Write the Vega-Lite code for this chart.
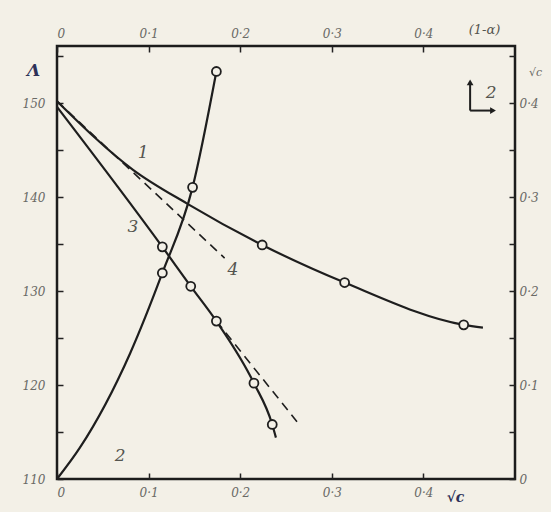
{
  "$schema": "https://vega.github.io/schema/vega-lite/v6.json",
  "width": 458,
  "height": 433,
  "autosize": {"type": "none"},
  "padding": {"left": 57, "top": 46, "right": 36, "bottom": 33},
  "background": "#f3f0e7",
  "config": {
    "view": {"stroke": "#1c1c1c", "strokeWidth": 2.5},
    "axis": {
      "grid": false,
      "domain": false,
      "ticks": true,
      "tickColor": "#222222",
      "tickWidth": 1.5,
      "tickSize": -6,
      "labelFont": "DejaVu Serif",
      "labelFontStyle": "italic",
      "labelFontSize": 12,
      "labelColor": "#6a6a66",
      "titleFont": "DejaVu Serif",
      "titleFontStyle": "italic",
      "titleFontWeight": "normal"
    }
  },
  "datasets": {
    "lines": [
      {"series": "1", "dash": "solid", "x": 0.0, "y": 150.2},
      {"series": "1", "dash": "solid", "x": 0.083, "y": 142.9},
      {"series": "1", "dash": "solid", "x": 0.142, "y": 139.3},
      {"series": "1", "dash": "solid", "x": 0.224, "y": 134.9},
      {"series": "1", "dash": "solid", "x": 0.314, "y": 130.9},
      {"series": "1", "dash": "solid", "x": 0.444, "y": 126.4},
      {"series": "1", "dash": "solid", "x": 0.465, "y": 126.1},
      {"series": "3", "dash": "solid", "x": 0.0, "y": 149.6},
      {"series": "3", "dash": "solid", "x": 0.115, "y": 134.7},
      {"series": "3", "dash": "solid", "x": 0.146, "y": 130.5},
      {"series": "3", "dash": "solid", "x": 0.174, "y": 126.8},
      {"series": "3", "dash": "solid", "x": 0.215, "y": 120.2},
      {"series": "3", "dash": "solid", "x": 0.235, "y": 115.8},
      {"series": "3", "dash": "solid", "x": 0.239, "y": 114.4},
      {"series": "4", "dash": "dashed", "x": 0.0, "y": 150.2},
      {"series": "4", "dash": "dashed", "x": 0.183, "y": 133.5},
      {"series": "3e", "dash": "dashed", "x": 0.174, "y": 126.8},
      {"series": "3e", "dash": "dashed", "x": 0.262, "y": 116.1}
    ],
    "circles": [
      {"series": "1", "x": 0.224, "y": 134.9},
      {"series": "1", "x": 0.314, "y": 130.9},
      {"series": "1", "x": 0.444, "y": 126.4},
      {"series": "3", "x": 0.115, "y": 134.7},
      {"series": "3", "x": 0.146, "y": 130.5},
      {"series": "3", "x": 0.174, "y": 126.8},
      {"series": "3", "x": 0.215, "y": 120.2},
      {"series": "3", "x": 0.235, "y": 115.8}
    ],
    "labels": [
      {"text": "1", "x": 0.094, "y": 144.7},
      {"text": "3", "x": 0.083, "y": 136.8},
      {"text": "4", "x": 0.192, "y": 132.2},
      {"text": "2", "x": 0.069, "y": 112.5},
      {"text": "2", "x": 0.474, "y": 151.1}
    ],
    "arrows": [
      {"x": 0.451, "y": 149.2, "x2": 0.451, "y2": 152.0},
      {"x": 0.451, "y": 149.2, "x2": 0.474, "y2": 149.2}
    ],
    "heads": [
      {"shape": "triangle-up", "x": 0.451, "y": 152.2},
      {"shape": "triangle-right", "x": 0.476, "y": 149.2}
    ],
    "curve2": [
      {"x": 0.0, "y": 0.0},
      {"x": 0.025, "y": 0.0333},
      {"x": 0.08, "y": 0.1341},
      {"x": 0.115, "y": 0.2192},
      {"x": 0.148, "y": 0.3103},
      {"x": 0.174, "y": 0.4336}
    ],
    "circles2": [
      {"x": 0.115, "y": 0.2192},
      {"x": 0.148, "y": 0.3103},
      {"x": 0.174, "y": 0.4336}
    ]
  },
  "layer": [
    {
      "encoding": {
        "x": {
          "field": "x", "type": "quantitative",
          "scale": {"domain": [0, 0.5], "nice": false, "zero": false},
          "axis": {
            "orient": "bottom",
            "values": [0, 0.1, 0.2, 0.3, 0.4],
            "labelExpr": "datum.value == 0 ? '0' : replace(format(datum.value, '.1f'), '.', '·')",
            "labelPadding": 14,
            "title": "√c",
            "titleX": 398, "titleY": 18, "titleBaseline": "middle", "titleAnchor": "middle",
            "titleAngle": 0, "titleFontSize": 14, "titleColor": "#2d3158", "titleFontWeight": "bold"
          }
        },
        "y": {
          "field": "y", "type": "quantitative",
          "scale": {"domain": [110, 156.07], "nice": false, "zero": false},
          "axis": {
            "orient": "left",
            "values": [110, 115, 120, 125, 130, 135, 140, 145, 150, 155],
            "labelExpr": "datum.value % 10 == 0 ? datum.label : ''",
            "labelPadding": 18,
            "title": "Λ",
            "titleX": -24, "titleY": 24, "titleAngle": 0, "titleAnchor": "middle",
            "titleBaseline": "middle", "titleFontSize": 17, "titleColor": "#2d3158", "titleFontWeight": "bold"
          }
        }
      },
      "layer": [
        {
          "data": {"name": "lines"},
          "transform": [{"filter": "datum.dash == 'solid'"}],
          "mark": {"type": "line", "interpolate": "monotone", "color": "#1e1e1e", "strokeWidth": 2.2},
          "encoding": {"detail": {"field": "series"}}
        },
        {
          "data": {"name": "lines"},
          "transform": [{"filter": "datum.dash == 'dashed'"}],
          "mark": {"type": "line", "color": "#1e1e1e", "strokeWidth": 1.6, "strokeDash": [9, 6]},
          "encoding": {"detail": {"field": "series"}}
        },
        {
          "data": {"name": "circles"},
          "mark": {"type": "point", "shape": "circle", "filled": true, "fill": "#f3f0e7", "stroke": "#1e1e1e", "strokeWidth": 1.8, "size": 80, "opacity": 1}
        },
        {
          "data": {"name": "arrows"},
          "mark": {"type": "rule", "color": "#1e1e1e", "strokeWidth": 2},
          "encoding": {"x2": {"field": "x2"}, "y2": {"field": "y2"}}
        },
        {
          "data": {"name": "heads"},
          "mark": {"type": "point", "filled": true, "color": "#1e1e1e", "size": 45, "opacity": 1},
          "encoding": {"shape": {"field": "shape", "type": "nominal", "scale": null}}
        },
        {
          "data": {"name": "labels"},
          "mark": {"type": "text", "font": "DejaVu Serif", "fontStyle": "italic", "fontSize": 17, "color": "#55554f"},
          "encoding": {"text": {"field": "text"}}
        }
      ]
    },
    {
      "encoding": {
        "x": {
          "field": "x", "type": "quantitative",
          "scale": {"domain": [0, 0.5], "nice": false, "zero": false},
          "axis": {
            "orient": "top",
            "values": [0, 0.1, 0.2, 0.3, 0.4],
            "labelExpr": "datum.value == 0 ? '0' : replace(format(datum.value, '.1f'), '.', '·')",
            "labelPadding": 12,
            "title": "(1-α)",
            "titleX": 427, "titleY": -17, "titleAngle": 0, "titleAnchor": "middle",
            "titleBaseline": "middle", "titleFontSize": 13, "titleColor": "#55554f"
          }
        },
        "y": {
          "field": "y", "type": "quantitative",
          "scale": {"domain": [0, 0.4607], "nice": false, "zero": false},
          "axis": {
            "orient": "right",
            "values": [0, 0.05, 0.1, 0.15, 0.2, 0.25, 0.3, 0.35, 0.4, 0.45],
            "labelExpr": "datum.value == 0 ? '0' : (round(datum.value * 100) % 10 == 0 ? replace(format(datum.value, '.1f'), '.', '·') : '')",
            "labelPadding": 10,
            "title": "√c",
            "titleX": 20, "titleY": 26, "titleAngle": 0, "titleAnchor": "middle",
            "titleBaseline": "middle", "titleFontSize": 11, "titleColor": "#6a6a66"
          }
        }
      },
      "layer": [
        {
          "data": {"name": "curve2"},
          "mark": {"type": "line", "interpolate": "monotone", "color": "#1e1e1e", "strokeWidth": 2.2}
        },
        {
          "data": {"name": "circles2"},
          "mark": {"type": "point", "shape": "circle", "filled": true, "fill": "#f3f0e7", "stroke": "#1e1e1e", "strokeWidth": 1.8, "size": 80, "opacity": 1}
        }
      ]
    }
  ],
  "resolve": {"scale": {"x": "independent", "y": "independent"}}
}
